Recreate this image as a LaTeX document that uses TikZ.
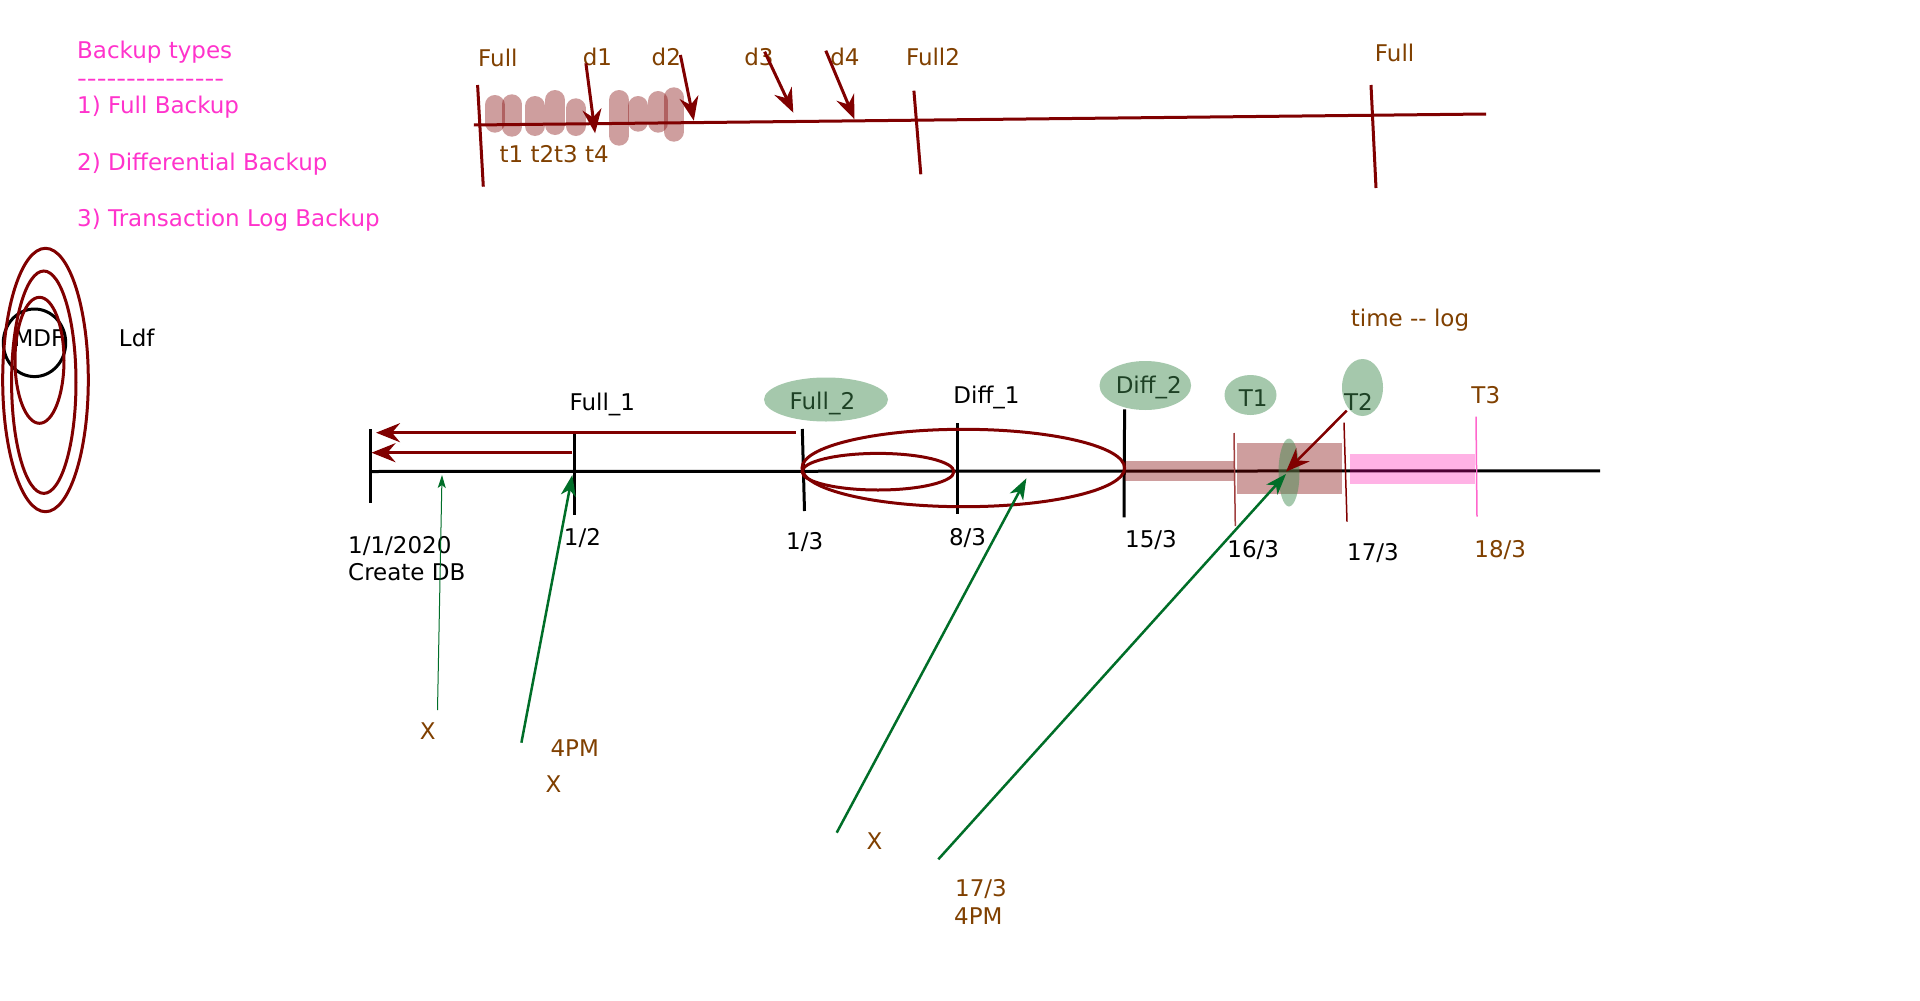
\documentclass[tikz,border=0pt]{standalone}
\usepackage{fontspec}
\setmainfont{DejaVu Sans}
\usetikzlibrary{arrows.meta}
\definecolor{pinktext}{RGB}{255,51,204}
\definecolor{browntext}{RGB}{128,64,0}
\definecolor{darkred}{RGB}{128,0,0}
\definecolor{arrowgreen}{RGB}{0,110,40}
\definecolor{blobgreen}{RGB}{64,140,80}
\definecolor{logpink}{RGB}{255,0,170}
\definecolor{tickpink}{RGB}{255,102,204}
\begin{document}
\begin{tikzpicture}[x=1pt, y=-1pt, font=\fontsize{23}{27}\selectfont,
    mylabel/.style={inner sep=0pt, text height=0.73em, text depth=0pt, yshift=-5pt},
    mytick/.style={line width=3pt},
    myblob/.style={draw=darkred, line width=20pt, line cap=round, opacity=0.38},
    mybubble/.style={fill=blobgreen, opacity=0.47},
    redarrow/.style={draw=darkred, line width=3pt, -{Stealth[length=24pt, width=19pt, inset=8pt]}},
    greenarrow/.style={draw=arrowgreen, line width=2.5pt, -{Stealth[length=21pt, width=15pt, inset=6pt]}}]
    \fill[white] (0,0) rectangle (1920,1001);
    \useasboundingbox (0,0) rectangle (1920,1001);
    % backup types
    \begin{scope}[every node/.style={mylabel, anchor=west, text=pinktext}]
      \node (types) at (77,50) {Backup types};
      \node (rule) at (77,78) {\scalebox{1.18}[1]{{-}{-}{-}{-}{-}{-}{-}{-}{-}{-}{-}{-}{-}{-}{-}}};
      \node (full) at (77,105) {1) Full Backup};
      \node (diff) at (77,162) {2) Differential Backup};
      \node (tlog) at (77,218) {3) Transaction Log Backup};
    \end{scope}
    % mdf / ldf
    \node[mylabel] (mdf) at (39,338) {MDF};
    \node[mylabel] (ldf) at (136.7,338) {Ldf};
    \draw[line width=3pt] (34.5,342.8) ellipse [x radius=31.2, y radius=33.8];
    \foreach \cx/\cy/\rx/\ry in {45.5/380/42.8/131.7, 43.8/382.2/32.2/111.2, 39.5/360.3/24.5/63}
      \draw[darkred, line width=3pt] (\cx,\cy) ellipse [x radius=\rx, y radius=\ry];
    % upper timeline
    \foreach \x/\ya/\yb in {494.8/105/122.7, 511.7/104.3/126.7, 535/106/126, 555.1/100/125,
        575.6/108.3/126, 619.2/100/135.7, 638.4/106/121.7, 658.4/101/122.7, 673.7/97.3/131.7}
      \draw[myblob] (\x,\ya) -- (\x,\yb);
    \coordinate (topl) at (473.8,125);
    \coordinate (topr) at (1486,114);
    \draw[darkred, mytick] (topl) -- (topr);
    \foreach \xa/\ya/\xb/\yb in {477.6/85/483.3/186.7, 913.9/90.7/920.8/174.3, 1371/85/1376/188}
      \draw[darkred, mytick] (\xa,\ya) -- (\xb,\yb);
    \begin{scope}[every node/.style={mylabel, text=browntext}]
      \node (fulla) at (497.9,58.3) {Full};
      \node (lda) at (597.4,56.7) {d1};
      \node (ldb) at (666.3,56.7) {d2};
      \node (ldc) at (758.9,56.7) {d3};
      \node (ldd) at (845,56.7) {d4};
      \node (fullb) at (933,56.7) {Full2};
      \node (fullc) at (1394.6,52.7) {Full};
      \node[anchor=west] (tlist) at (499.4,154) {t1 t2t3 t4};
    \end{scope}
    \foreach \n/\a/\b in {da/{585.9,63.3}/{595.1,133.3}, db/{680.4,55}/{693.8,120.7},
        dc/{764.6,51.7}/{793.3,112.7}, dd/{825.8,50.7}/{854.5,119.3}}{
      \coordinate (\n s) at (\a);
      \coordinate (\n e) at (\b);
      \draw[redarrow] (\n s) -- (\n e);
    }
    % main timeline
    \coordinate (axl) at (369.3,471.5);
    \coordinate (axr) at (1600,470.8);
    \draw[mytick] (axl) -- (axr);
    \foreach \xa/\ya/\xb/\yb in {370.2/429/370.2/503.3, 574.6/433/574.6/515, 802.3/429/804.5/511,
        957.2/423.3/957.2/514.3, 1124.6/409.3/1124/517.3}
      \draw[mytick] (\xa,\ya) -- (\xb,\yb);
    \draw[darkred!75, line width=1.5pt] (1234,433) -- (1235.3,526);
    \draw[darkred, line width=1.5pt] (1344,422.7) -- (1347,521.7);
    \draw[tickpink, line width=1.5pt] (1476,416.7) -- (1477,516.7);
    \fill[darkred, opacity=0.38] (1124.6,460.7) rectangle (1233.5,480.7);
    \fill[darkred, opacity=0.38] (1237,442.7) rectangle (1342,494);
    \fill[logpink, opacity=0.3] (1350,454) rectangle (1475,484);
    \draw[darkred, line width=3pt] (963.3,468) ellipse [x radius=161.3, y radius=38.7];
    \draw[darkred, line width=3pt] (878,471.7) ellipse [x radius=75.9, y radius=18.3];
    \coordinate (ras) at (795.6,432.7);
    \coordinate (rae) at (376,432.7);
    \coordinate (rbs) at (572.4,452.7);
    \coordinate (rbe) at (371.5,452.7);
    \draw[redarrow] (ras) -- (rae);
    \draw[redarrow] (rbs) -- (rbe);
    % labels above
    \node[mylabel] (fullone) at (602.3,402) {Full\_1};
    \node[mylabel] (fulltwo) at (822.4,400.7) {Full\_2};
    \node[mylabel] (diffone) at (986.5,395) {Diff\_1};
    \node[mylabel] (difftwo) at (1148.8,385) {Diff\_2};
    \node[mylabel] (tone) at (1253.2,397.7) {T1};
    \node[mylabel] (ttwo) at (1358.5,402.3) {T2};
    \node[mylabel, text=browntext] (tthree) at (1485.8,395.3) {T3};
    \node[mylabel, text=browntext] (timelog) at (1410,318) {time {-}{-} log};
    \foreach \cx/\cy/\rx/\ry in {826/399.5/62/22, 1145.3/385.5/45.8/24.5, 1250.5/395/26/20,
        1362.5/387.5/20.5/28.5, 1289/472.5/10.5/34}
      \fill[mybubble] (\cx,\cy) ellipse [x radius=\rx, y radius=\ry];
    % dates
    \node[mylabel, anchor=west] (dbdate) at (348,544.7) {1/1/2020};
    \node[mylabel, anchor=west] (dbcreate) at (348,572) {Create DB};
    \node[mylabel] (feb) at (582.5,537.2) {1/2};
    \node[mylabel] (mar) at (804.7,540.5) {1/3};
    \node[mylabel] (mareight) at (967.6,537) {8/3};
    \node[mylabel] (marfifteen) at (1151,539) {15/3};
    \node[mylabel] (marsixteen) at (1253.3,548.7) {16/3};
    \node[mylabel] (marseventeen) at (1373,552) {17/3};
    \node[mylabel, text=browntext] (mareighteen) at (1500.3,548.7) {18/3};
    % restore points
    \begin{scope}[every node/.style={mylabel, text=browntext}]
      \node (xa) at (427.7,731) {X};
      \node (pma) at (574.7,748.3) {4PM};
      \node (xb) at (553.5,784.3) {X};
      \node (xc) at (874.5,840.8) {X};
      \node[anchor=west] (dayb) at (955,888.3) {17/3};
      \node[anchor=west] (pmb) at (954,915.7) {4PM};
    \end{scope}
    \coordinate (gas) at (437.5,710);
    \coordinate (gae) at (442,475);
    \coordinate (gbs) at (521.4,742.7);
    \coordinate (gbe) at (572.3,475);
    \coordinate (gcs) at (836.7,832.7);
    \coordinate (gce) at (1026.4,478.3);
    \coordinate (gds) at (938.3,859.3);
    \coordinate (gde) at (1286,474);
    \draw[arrowgreen, line width=1pt, -{Stealth[length=13pt, width=8pt, inset=3pt]}] (gas) -- (gae);
    \draw[greenarrow] (gbs) -- (gbe);
    \draw[greenarrow] (gcs) -- (gce);
    \draw[greenarrow] (gds) -- (gde);
    \coordinate (tas) at (1346.7,410.7);
    \coordinate (tae) at (1286,471.7);
    \draw[redarrow, line width=2.5pt] (tas) -- (tae);
\end{tikzpicture}
\end{document}
